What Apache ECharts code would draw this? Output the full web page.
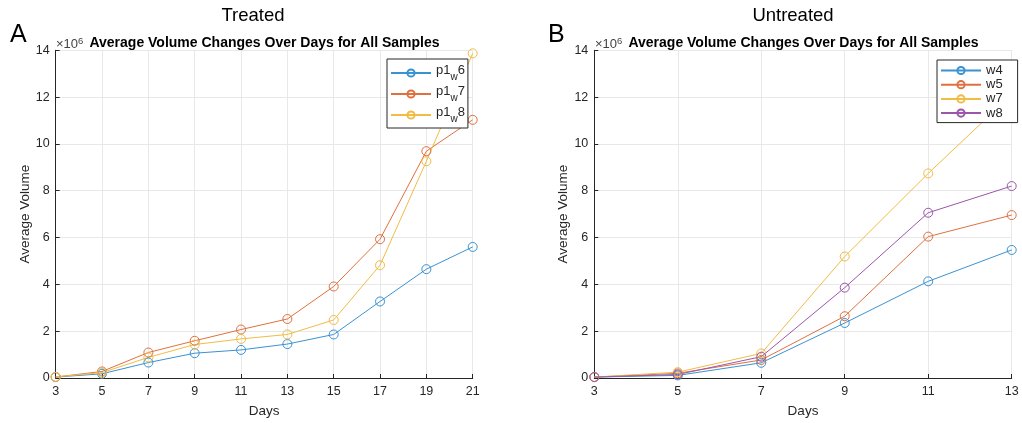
<!DOCTYPE html>
<html>
<head>
<meta charset="utf-8">
<script src="https://cdn.jsdelivr.net/npm/echarts@6/dist/echarts.min.js"></script>
<style>
  html, body { margin: 0; padding: 0; background: #fff; }
  #chart { width: 1022px; height: 423px; }
</style>
</head>
<body>
<div id="chart"></div>
<script>
// Days of measurement for each group
const daysTreated = [3, 5, 7, 9, 11, 13, 15, 17, 19, 21];
const daysUntreated = [3, 5, 7, 9, 11, 13];

// Average volume, in units of 10^6
const p1w6 = [0.04, 0.18, 0.66, 1.06, 1.20, 1.45, 1.86, 3.27, 4.65, 5.60];
const p1w7 = [0.04, 0.28, 1.09, 1.59, 2.07, 2.52, 3.91, 5.93, 9.69, 11.03];
const p1w8 = [0.05, 0.23, 0.88, 1.43, 1.67, 1.86, 2.48, 4.82, 9.26, 13.87];

const w4 = [0.04, 0.11, 0.65, 2.35, 4.13, 5.47];
const w5 = [0.04, 0.20, 0.77, 2.64, 6.04, 6.96];
const w7 = [0.04, 0.25, 1.05, 5.19, 8.74, 12.11];
const w8 = [0.04, 0.15, 0.91, 3.86, 7.06, 8.20];

const treatedNames = ['p1_w6', 'p1_w7', 'p1_w8'];
const untreatedNames = ['w4', 'w5', 'w7', 'w8'];

const yMin = 0, yMax = 14, yStep = 2;

const colors = {
  blue: '#3a92d2',
  orange: '#e0703f',
  yellow: '#f0bc44',
  purple: '#9b56aa'
};

const font = '"Liberation Sans", Arial, Helvetica, sans-serif';
const axisColor = '#262626';
const gridColor = '#e8e8e8';

const chart = echarts.init(document.getElementById('chart'), null, { renderer: 'canvas' });

function xAxisFor(gridIndex, days) {
  return {
    type: 'category',
    gridIndex: gridIndex,
    data: days.map(String),
    boundaryGap: false,
    name: 'Days',
    nameLocation: 'middle',
    nameGap: 26,
    nameTextStyle: { color: axisColor, fontSize: 13.5, fontFamily: font },
    axisLine: { show: true, lineStyle: { color: axisColor, width: 1 } },
    axisTick: { show: true, inside: true, length: 4, lineStyle: { color: axisColor } },
    axisLabel: { color: axisColor, fontSize: 12.5, fontFamily: font, margin: 7 },
    splitLine: { show: true, lineStyle: { color: gridColor, width: 1 } }
  };
}

function yAxisFor(gridIndex) {
  return {
    type: 'value',
    gridIndex: gridIndex,
    min: yMin,
    max: yMax,
    interval: yStep,
    name: 'Average Volume',
    nameLocation: 'middle',
    nameGap: 23,
    nameTextStyle: { color: axisColor, fontSize: 13.5, fontFamily: font },
    axisLine: { show: true, lineStyle: { color: axisColor, width: 1 } },
    axisTick: { show: true, inside: true, length: 4, lineStyle: { color: axisColor } },
    axisLabel: { color: axisColor, fontSize: 12.5, fontFamily: font, margin: 6 },
    splitLine: { show: true, lineStyle: { color: gridColor, width: 1 } }
  };
}

function lineSeries(name, data, color, xi) {
  return {
    name: name,
    type: 'line',
    xAxisIndex: xi,
    yAxisIndex: xi,
    data: data,
    symbol: 'circle',
    symbolSize: 9,
    showAllSymbol: true,
    itemStyle: { color: 'rgba(255,255,255,0)', borderColor: color, borderWidth: 1 },
    lineStyle: { color: color, width: 1 },
    emphasis: { disabled: true },
    animation: false,
    z: 3
  };
}

function legendFor(names, left, top, gap, sub) {
  return {
    data: names,
    orient: 'vertical',
    left: left,
    top: top,
    itemWidth: 40,
    itemHeight: 9,
    itemGap: gap,
    padding: sub ? [5, 3, 4, 3] : [4, 15, 3, 3],
    borderColor: axisColor,
    borderWidth: 1,
    backgroundColor: '#fff',
    selectedMode: false,
    textStyle: {
      color: axisColor,
      fontSize: 13,
      fontFamily: font,
      rich: {
        n: { fontSize: 13, fontFamily: font, color: axisColor, verticalAlign: 'top' },
        s: { fontSize: 10, fontFamily: font, color: axisColor, padding: [8, 0, 0, 0], verticalAlign: 'top' }
      }
    },
    formatter: sub
      ? function (name) {
          const parts = name.split('_');
          return '{n|' + parts[0] + '}{s|' + parts[1].slice(0, 1) + '}{n|' + parts[1].slice(1) + '}';
        }
      : function (name) { return name; }
  };
}

const subtitle = 'Average Volume Changes Over Days for All Samples';

const exponentStyle = {
  fontSize: 13, fontWeight: 'normal', color: '#444', fontFamily: font,
  rich: { e: { fontSize: 9.5, color: '#444', fontFamily: font, verticalAlign: 'top', padding: [0, 0, 6, 0] } }
};

// Title boxes carry ECharts' default 5px padding; positions below account for it
const option = {
  backgroundColor: '#fff',
  animation: false,
  title: [
    { text: 'Treated', left: 248, top: 1, textAlign: 'center',
      textStyle: { fontSize: 18.5, fontWeight: 'normal', color: '#000', fontFamily: font } },
    { text: 'Untreated', left: 788, top: 1, textAlign: 'center',
      textStyle: { fontSize: 18.5, fontWeight: 'normal', color: '#000', fontFamily: font } },
    { text: 'A', left: 5, top: 18,
      textStyle: { fontSize: 25, fontWeight: 'normal', color: '#000', fontFamily: font } },
    { text: 'B', left: 543, top: 18,
      textStyle: { fontSize: 25, fontWeight: 'normal', color: '#000', fontFamily: font } },
    { text: subtitle, left: 259.5, top: 31, textAlign: 'center',
      textStyle: { fontSize: 14, fontWeight: 'bold', color: '#000', fontFamily: font } },
    { text: subtitle, left: 798.5, top: 31, textAlign: 'center',
      textStyle: { fontSize: 14, fontWeight: 'bold', color: '#000', fontFamily: font } },
    { text: '×10{e|6}', left: 51, top: 31, textStyle: exponentStyle },
    { text: '×10{e|6}', left: 590, top: 31, textStyle: exponentStyle }
  ],
  grid: [
    { left: 55.7, right: 549.3, top: 50.3, bottom: 43.7, containLabel: false },
    { left: 594.3, right: 10.3, top: 50.3, bottom: 43.7, containLabel: false }
  ],
  xAxis: [xAxisFor(0, daysTreated), xAxisFor(1, daysUntreated)],
  yAxis: [yAxisFor(0), yAxisFor(1)],
  legend: [
    legendFor(treatedNames, 387, 59, 3, true),
    legendFor(untreatedNames, 937, 60, 1.2, false)
  ],
  series: [
    lineSeries(treatedNames[0], p1w6, colors.blue, 0),
    lineSeries(treatedNames[1], p1w7, colors.orange, 0),
    lineSeries(treatedNames[2], p1w8, colors.yellow, 0),
    lineSeries(untreatedNames[0], w4, colors.blue, 1),
    lineSeries(untreatedNames[1], w5, colors.orange, 1),
    lineSeries(untreatedNames[2], w7, colors.yellow, 1),
    lineSeries(untreatedNames[3], w8, colors.purple, 1)
  ]
};

chart.setOption(option);
</script>
</body>
</html>
